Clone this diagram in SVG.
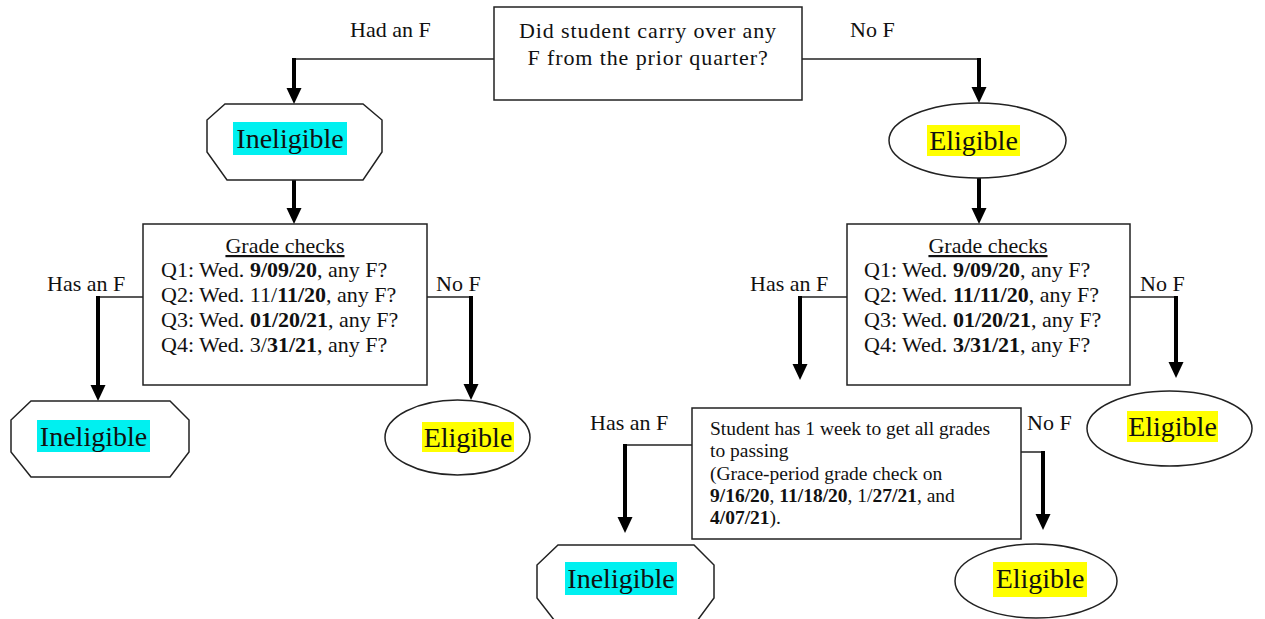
<svg xmlns="http://www.w3.org/2000/svg" width="1265" height="619" viewBox="0 0 1265 619">
<style>
text{font-family:"Liberation Serif","Times New Roman",serif;fill:#111}
.lbl{font-size:22px}
.big{font-family:"Liberation Serif","Times New Roman",serif;font-size:28px;text-anchor:middle}
.q{font-size:22px}
.top{font-size:22px;letter-spacing:0.9px}
.g{font-size:19.5px}
.b{font-weight:bold}
.box{fill:#fff;stroke:#222;stroke-width:1.5}
.thin{stroke:#222;stroke-width:1.5;fill:none}
.thick{stroke:#000;stroke-width:4;fill:none;marker-end:url(#ah)}
.cy{fill:#00F0F0}
.ye{fill:#FFFF00}
</style>
<defs>
<marker id="ah" markerUnits="userSpaceOnUse" markerWidth="16" markerHeight="16" refX="8" refY="8" orient="auto">
<path d="M0,0.5 L16,8 L0,15.5 z" fill="#000"/>
</marker>
</defs>
<rect width="1265" height="619" fill="#fff"/>

<g id="connectors">
<line class="thin" x1="494" y1="59" x2="294" y2="59"/>
<line class="thick" x1="294" y1="58" x2="294" y2="96"/>
<line class="thin" x1="802" y1="59" x2="979" y2="59"/>
<line class="thick" x1="979" y1="58" x2="979" y2="95"/>
<line class="thick" x1="294" y1="180" x2="294" y2="216"/>
<line class="thick" x1="979" y1="178" x2="979" y2="216"/>
<line class="thin" x1="143" y1="297" x2="98" y2="297"/>
<line class="thick" x1="98" y1="296" x2="98" y2="393"/>
<line class="thin" x1="427" y1="297" x2="471" y2="297"/>
<line class="thick" x1="471" y1="296" x2="471" y2="392"/>
<line class="thin" x1="847" y1="297" x2="800" y2="297"/>
<line class="thick" x1="800" y1="296" x2="800" y2="372"/>
<line class="thin" x1="1130" y1="297" x2="1176" y2="297"/>
<line class="thick" x1="1176" y1="296" x2="1176" y2="370"/>
<line class="thin" x1="692" y1="445" x2="625" y2="445"/>
<line class="thick" x1="625" y1="444" x2="625" y2="525"/>
<line class="thin" x1="1021" y1="452" x2="1043" y2="452"/>
<line class="thick" x1="1043" y1="451" x2="1043" y2="522"/>
</g>

<g id="labels">
<text class="lbl" x="350" y="37">Had an F</text>
<text class="lbl" x="850" y="37">No F</text>
<text class="lbl" x="47" y="291">Has an F</text>
<text class="lbl" x="436" y="291">No F</text>
<text class="lbl" x="750" y="291">Has an F</text>
<text class="lbl" x="1140" y="291">No F</text>
<text class="lbl" x="590" y="430">Has an F</text>
<text class="lbl" x="1027" y="430">No F</text>
</g>

<g id="question">
<rect class="box" x="494" y="7" width="308" height="93"/>
<text class="top" x="648" y="38" text-anchor="middle">Did student carry over any</text>
<text class="top" x="648" y="65" text-anchor="middle">F from the prior quarter?</text>
</g>

<g id="ineligible-1">
<polygon class="box" points="225,104 363,104 382,120 382,152 363,180 227,180 207,152 207,120"/>
<rect class="cy" x="233" y="122" width="114" height="33"/>
<text class="big" x="290" y="148">Ineligible</text>
</g>

<g id="eligible-1">
<ellipse class="box" cx="977.5" cy="140.5" rx="88.5" ry="37.5"/>
<rect class="ye" x="927" y="125" width="93" height="31"/>
<text class="big" x="973.5" y="150">Eligible</text>
</g>

<g id="grade-checks-1">
<rect class="box" x="143" y="224" width="284" height="161"/>
<text class="q" x="285" y="253" text-anchor="middle" text-decoration="underline">Grade checks</text>
<text class="q" x="161" y="277">Q1: Wed. <tspan class="b">9/09/20</tspan>, any F?</text>
<text class="q" x="161" y="302">Q2: Wed. 11/<tspan class="b">11/20</tspan>, any F?</text>
<text class="q" x="161" y="327">Q3: Wed. <tspan class="b">01/20/21</tspan>, any F?</text>
<text class="q" x="161" y="352">Q4: Wed. 3/<tspan class="b">31/21</tspan>, any F?</text>
</g>

<g id="grade-checks-2">
<rect class="box" x="847" y="224" width="283" height="161"/>
<text class="q" x="988" y="253" text-anchor="middle" text-decoration="underline">Grade checks</text>
<text class="q" x="864" y="277">Q1: Wed. <tspan class="b">9/09/20</tspan>, any F?</text>
<text class="q" x="864" y="302">Q2: Wed. <tspan class="b">11/11/20</tspan>, any F?</text>
<text class="q" x="864" y="327">Q3: Wed. <tspan class="b">01/20/21</tspan>, any F?</text>
<text class="q" x="864" y="352">Q4: Wed. <tspan class="b">3/31/21</tspan>, any F?</text>
</g>

<g id="ineligible-2">
<polygon class="box" points="31,401 170,401 189,420 189,452 170,477 31,477 11,452 11,420"/>
<rect class="cy" x="37" y="420" width="113" height="32"/>
<text class="big" x="93.5" y="446">Ineligible</text>
</g>

<g id="eligible-2">
<ellipse class="box" cx="457.5" cy="437.5" rx="72.5" ry="37.5"/>
<rect class="ye" x="422" y="422" width="92" height="30"/>
<text class="big" x="468" y="447">Eligible</text>
</g>

<g id="eligible-3">
<ellipse class="box" cx="1169.5" cy="428.5" rx="82.5" ry="37.5"/>
<rect class="ye" x="1127" y="411" width="91" height="31"/>
<text class="big" x="1172.5" y="436">Eligible</text>
</g>

<g id="grace-period">
<rect class="box" x="692" y="408" width="329" height="131"/>
<text class="g" x="710" y="435">Student has 1 week to get all grades</text>
<text class="g" x="710" y="457">to passing</text>
<text class="g" x="710" y="480">(Grace-period grade check on</text>
<text class="g" x="710" y="502"><tspan class="b">9/16/20</tspan>, <tspan class="b">11/18/20</tspan>, 1/<tspan class="b">27/21</tspan>, and</text>
<text class="g" x="710" y="524"><tspan class="b">4/07/21</tspan>).</text>
</g>

<g id="ineligible-3">
<polygon class="box" points="558,545 694,545 714,565 714,598 694,625 558,625 537,598 537,565"/>
<rect class="cy" x="565" y="562" width="112" height="33"/>
<text class="big" x="621" y="588">Ineligible</text>
</g>

<g id="eligible-4">
<ellipse class="box" cx="1036" cy="581" rx="81" ry="37"/>
<rect class="ye" x="993" y="562" width="94" height="35"/>
<text class="big" x="1040" y="588">Eligible</text>
</g>
</svg>
